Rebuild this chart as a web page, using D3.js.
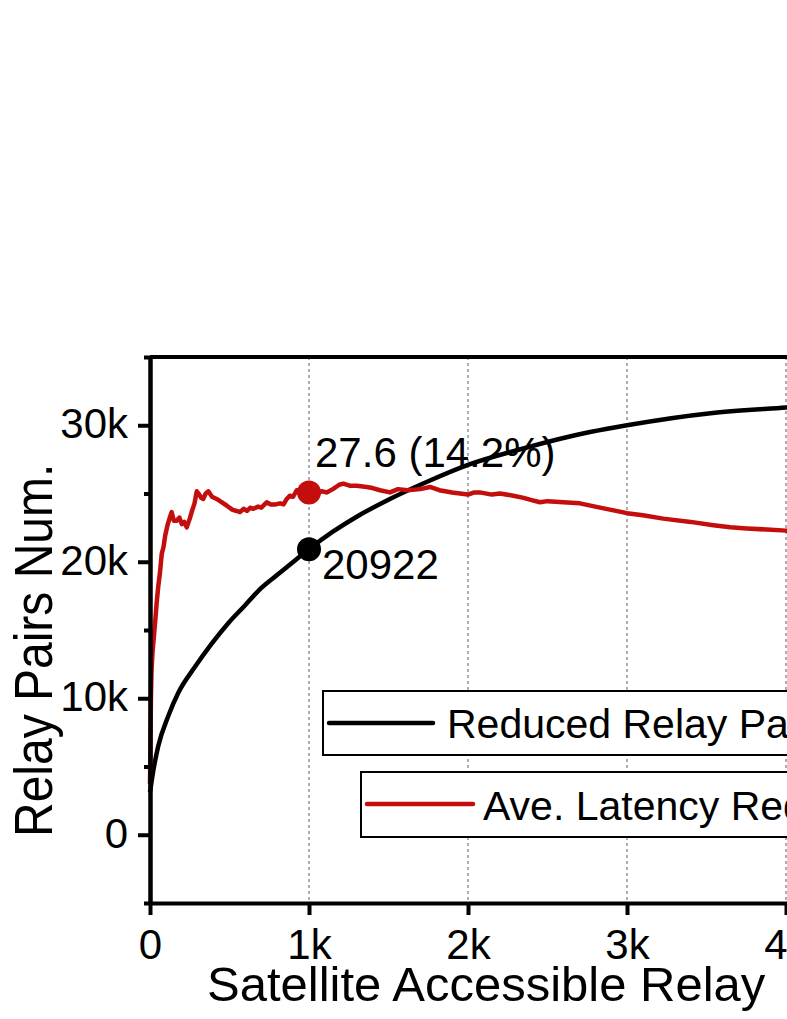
<!DOCTYPE html>
<html>
<head>
<meta charset="utf-8">
<script src="https://cdn.jsdelivr.net/npm/d3@7"></script>
<style>
  html, body { margin: 0; padding: 0; background: #fff; overflow: hidden; }
  text { font-family: "Liberation Sans", Arial, sans-serif; }
</style>
</head>
<body>
<div id="chart"></div>
<script>
// relay pairs (left axis)
const pairX = [0, 15, 52, 115, 178, 283, 388, 492, 597, 702, 807, 912, 1000,
  1150, 1300, 1509, 1750, 2000, 2348, 2767, 3000, 3540, 4000, 4500, 5000];
const pairY = [3100, 4300, 6500, 8700, 10400, 12300, 14000, 15500, 16800, 18100, 19100, 20100, 20922,
  22200, 23300, 24600, 25900, 27100, 28300, 29500, 30000, 30900, 31300, 31700, 32000];

// average latency reduction (right axis, ms)
const latX = [0, 3, 6, 10, 16, 25, 35, 42, 52, 63, 74, 85, 95, 110, 125, 136, 150, 168, 185, 200, 215,
  231, 250, 262, 280, 294, 310, 322, 335, 350, 367, 390, 419, 450, 482, 500, 520, 545, 566, 590, 610,
  630, 650, 680, 700, 734, 760, 790, 818, 840, 860, 880, 900, 923, 960, 1000, 1040, 1080, 1111, 1150, 1190,
  1216, 1260, 1300, 1363, 1400, 1447, 1509, 1560, 1620, 1700, 1761, 1820, 1900, 2000, 2040, 2075, 2150, 2200, 2285, 2350,
  2400, 2453, 2500, 2600, 2704, 2800, 2900, 3000, 3100, 3228, 3400, 3543, 3650, 3753, 3880, 4000, 4200, 4500];
const latY = [0.9, 5, 9, 11.5, 13, 14.5, 16.2, 17.5, 19.0, 20.3, 22.0, 22.6, 23.6, 24.6, 25.3, 25.8, 25.0, 25.0, 25.3, 24.7, 24.9,
  24.4, 25.2, 25.8, 26.6, 27.7, 27.4, 27.1, 27.0, 27.5, 27.7, 27.2, 27.0, 26.7, 26.4, 26.2, 26.0, 25.9, 25.8, 26.1, 25.9,
  26.2, 26.1, 26.3, 26.2, 26.7, 26.5, 26.5, 26.6, 26.5, 27.0, 27.3, 27.2, 27.8, 27.7, 27.6, 27.4, 27.7, 27.6, 27.9, 28.3,
  28.4, 28.2, 28.2, 28.1, 28.0, 27.8, 27.6, 27.9, 27.8, 27.9, 28.1, 27.8, 27.6, 27.4, 27.6, 27.6, 27.4, 27.5, 27.3, 27.1,
  26.9, 26.7, 26.8, 26.7, 26.6, 26.3, 26.0, 25.7, 25.5, 25.2, 24.9, 24.6, 24.4, 24.3, 24.2, 24.1, 24.0, 23.9];

const xTicks = [0, 1000, 2000, 3000, 4000, 5000];
const xTickLabels = ["0", "1k", "2k", "3k", "4k", "5k"];
const yTicks = [0, 10000, 20000, 30000];
const yTickLabels = ["0", "10k", "20k", "30k"];
const yMinorTicks = [-5000, 5000, 15000, 25000, 35000];
const legendLabels = ["Reduced Relay Pairs Num.", "Ave. Latency Reduction (ms)"];

const width = 787, height = 1019;
const plotL = 150, plotT = 357, plotR = 945, plotB = 903;

const svg = d3.select("#chart").append("svg")
    .attr("width", width)
    .attr("height", height);

const x = d3.scaleLinear().domain([0, 5000]).range([plotL, plotR]);
const y = d3.scaleLinear().domain([-5000, 35000]).range([plotB, plotT]);
const y2 = d3.scaleLinear().domain([-10, 40]).range([plotB, plotT]);

// dashed vertical grid
svg.append("g").selectAll("line")
    .data(xTicks.slice(1))
    .enter().append("line")
    .attr("x1", d => x(d)).attr("x2", d => x(d))
    .attr("y1", plotT).attr("y2", plotB)
    .attr("stroke", "#8c8c8c")
    .attr("stroke-width", 1.4)
    .attr("stroke-dasharray", "3,3");

// series
const pairLine = d3.line()
    .x((d, i) => x(pairX[i]))
    .y(d => y(d))
    .curve(d3.curveMonotoneX);
svg.append("path")
    .datum(pairY)
    .attr("fill", "none")
    .attr("stroke", "#000")
    .attr("stroke-width", 4.5)
    .attr("d", pairLine);

const latLine = d3.line()
    .x((d, i) => x(latX[i]))
    .y(d => y2(d));
svg.append("path")
    .datum(latY)
    .attr("fill", "none")
    .attr("stroke", "#c40d0d")
    .attr("stroke-width", 4.5)
    .attr("stroke-linejoin", "round")
    .attr("d", latLine);

// highlighted points at 1k
svg.append("circle")
    .attr("cx", x(1000)).attr("cy", y2(27.6)).attr("r", 12)
    .attr("fill", "#c40d0d");
svg.append("circle")
    .attr("cx", x(1000)).attr("cy", y(20922)).attr("r", 12)
    .attr("fill", "#000");

svg.append("text")
    .attr("x", x(1000) + 6).attr("y", y2(27.6) - 25)
    .attr("font-size", "42px")
    .text("27.6 (14.2%)");
svg.append("text")
    .attr("x", x(1000) + 13).attr("y", y(20922) + 30)
    .attr("font-size", "42px")
    .text("20922");

// axes frame
svg.append("line")
    .attr("x1", plotL).attr("x2", plotR).attr("y1", plotT).attr("y2", plotT)
    .attr("stroke", "#000").attr("stroke-width", 4);

const xAxis = svg.append("g")
    .attr("transform", `translate(0,${plotB})`)
    .call(d3.axisBottom(x).tickValues(xTicks).tickFormat((d, i) => xTickLabels[i]).tickSize(12).tickSizeOuter(0).tickPadding(14));

const yAxis = svg.append("g")
    .attr("transform", `translate(${plotL},0)`)
    .call(d3.axisLeft(y).tickValues(yTicks).tickFormat((d, i) => yTickLabels[i]).tickSize(12).tickSizeOuter(0).tickPadding(10));

const yMinor = svg.append("g")
    .attr("transform", `translate(${plotL},0)`)
    .call(d3.axisLeft(y).tickValues(yMinorTicks).tickFormat("").tickSize(6).tickSizeOuter(0));

[xAxis, yAxis, yMinor].forEach(g => {
    g.select(".domain").attr("stroke", "#000").attr("stroke-width", 4);
    g.selectAll(".tick line").attr("stroke", "#000").attr("stroke-width", 4);
    g.selectAll(".tick text")
        .attr("fill", "#000")
        .style("font-family", "'Liberation Sans', Arial, sans-serif")
        .style("font-size", "42px");
});
yAxis.selectAll(".tick text").attr("dy", "0.3em");

// axis titles
svg.append("text")
    .attr("x", 207).attr("y", 1001)
    .attr("font-size", "49px")
    .text("Satellite Accessible Relay");

svg.append("text")
    .attr("transform", "translate(52,837) scale(1.1,1) rotate(-90)")
    .attr("font-size", "48px")
    .text("Relay Pairs Num.");

// legends, two separate boxes
const legend = [
    {label: legendLabels[0], color: "#000", bx: 323, by: 691, bh: 64, lx1: 329, lx2: 433, ly: 723, tx: 447, ty: 738},
    {label: legendLabels[1], color: "#c40d0d", bx: 361, by: 772, bh: 65, lx1: 367, lx2: 473, ly: 804, tx: 483, ty: 820}
];
legend.forEach(l => {
    const g = svg.append("g");
    g.append("rect")
        .attr("x", l.bx).attr("y", l.by)
        .attr("width", 700).attr("height", l.bh)
        .attr("fill", "#fff")
        .attr("stroke", "#000").attr("stroke-width", 2);
    g.append("line")
        .attr("x1", l.lx1).attr("x2", l.lx2).attr("y1", l.ly).attr("y2", l.ly)
        .attr("stroke", l.color).attr("stroke-width", 4.5).attr("stroke-linecap", "round");
    g.append("text")
        .attr("x", l.tx).attr("y", l.ty)
        .attr("font-size", "41px")
        .text(l.label);
});
</script>
</body>
</html>
